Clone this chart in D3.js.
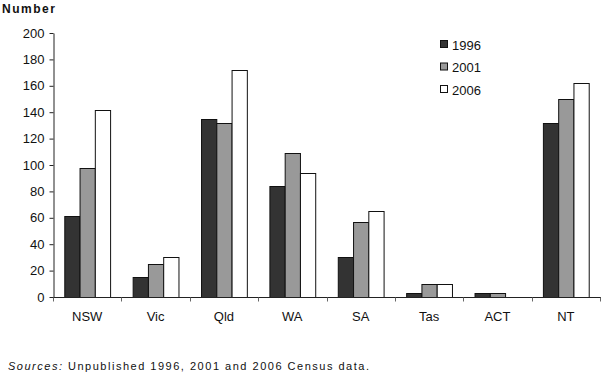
<!DOCTYPE html>
<html><head><meta charset="utf-8">
<script src="https://cdn.jsdelivr.net/npm/d3@7"></script>
<style>body{margin:0;background:#fff}svg{display:block;font-family:"Liberation Sans",Arial,sans-serif}</style>
</head><body><svg id="c" width="603" height="373"></svg>
<script>
const categories = ["NSW","Vic","Qld","WA","SA","Tas","ACT","NT"];
const seriesNames = ["1996","2001","2006"];
const v1996 = [61,15,135,84,30,3,3,132];
const v2001 = [98,25,132,109,57,10,3,150];
const v2006 = [142,30,172,94,65,10,0,162];
const yTicks = [0,20,40,60,80,100,120,140,160,180,200];
const colors = ["#333333","#999999","#ffffff"];
const series = [v1996,v2001,v2006];

(function(){
const svg = d3.select("#c");
const mL = 53, mR = 600, mT = 33, mB = 297;
const x = d3.scaleBand().domain(categories).range([mL,mR]).paddingInner(0.33).paddingOuter(0.165);
const xs = d3.scaleBand().domain(seriesNames).range([0,x.bandwidth()]);
const y = d3.scaleLinear().domain([0,200]).range([mB,mT]);

// bars
categories.forEach((c,ci)=>{
  series.forEach((s,si)=>{
    if (s[ci] <= 0) return;
    svg.append("rect")
      .attr("x", x(c)+xs(seriesNames[si])+0.5)
      .attr("y", Math.round(y(s[ci]))+0.5)
      .attr("width", xs.bandwidth())
      .attr("height", mB - Math.round(y(s[ci])))
      .attr("fill", colors[si])
      .attr("stroke", "#111").attr("stroke-width",1);
  });
});

// y axis
const ya = svg.append("g").attr("transform",`translate(${mL+0.5},0)`)
  .call(d3.axisLeft(y).tickValues(yTicks).tickSize(4).tickSizeOuter(0).tickPadding(5));
ya.select(".domain").attr("stroke","#222");
ya.selectAll(".tick line").attr("stroke","#222");
ya.selectAll("text").attr("font-size","13px").attr("fill","#111").attr("font-family","Liberation Sans, Arial, sans-serif");

// x axis
const xg = svg.append("g").attr("transform",`translate(0,${mB+0.5})`);
xg.append("line").attr("x1",mL).attr("x2",mR+1).attr("stroke","#222");
const sepTicks = d3.range(categories.length+1).map(i=>mL + i*x.step());
xg.selectAll("line.sep").data(sepTicks).join("line").attr("class","sep")
  .attr("x1",d=>Math.round(d)+0.5).attr("x2",d=>Math.round(d)+0.5).attr("y1",0).attr("y2",4).attr("stroke","#666");
xg.selectAll("text").data(categories).join("text")
  .attr("x",d=>x(d)+x.bandwidth()/2).attr("y",23)
  .attr("text-anchor","middle").attr("font-size","13px").attr("fill","#111").text(d=>d);

// title
svg.append("text").attr("x",2).attr("y",13).attr("font-size","12px").attr("font-weight","bold").attr("fill","#111")
  .attr("textLength",53).attr("lengthAdjust","spacing").text("Number");

// legend
seriesNames.forEach((n,i)=>{
  const ly = 45 + i*22.5;
  svg.append("rect").attr("x",440.5).attr("y",ly-4.5).attr("width",7).attr("height",7)
    .attr("fill",colors[i]).attr("stroke","#111");
  svg.append("text").attr("x",452).attr("y",ly+4.5).attr("font-size","13px").attr("fill","#111").text(n);
});

// source
const src = svg.append("text").attr("x",8).attr("y",370).attr("font-size","11px").attr("fill","#111")
  .attr("textLength",361).attr("lengthAdjust","spacing");
src.append("tspan").attr("font-style","italic").text("Sources:");
src.append("tspan").text(" Unpublished 1996, 2001 and 2006 Census data.");
})();
</script></body></html>
